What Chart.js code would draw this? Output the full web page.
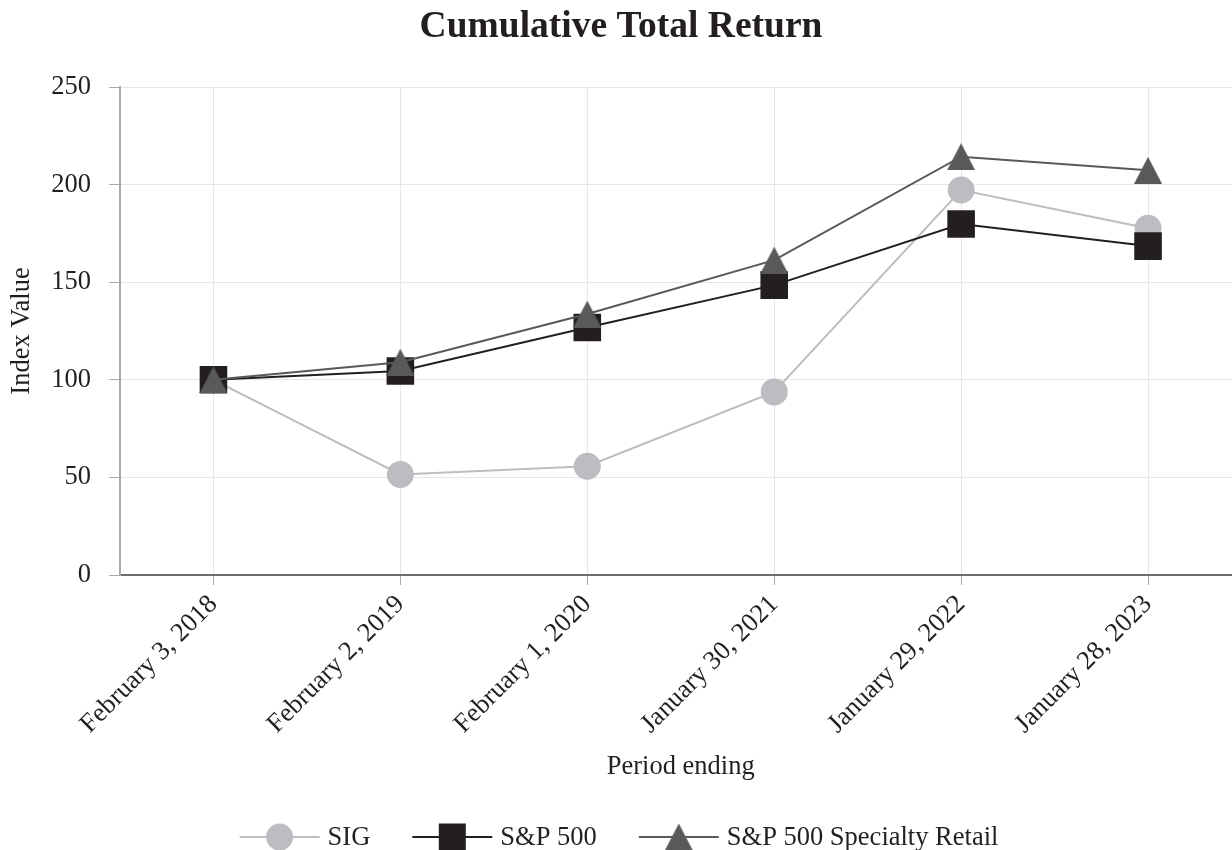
<!DOCTYPE html>
<html><head><meta charset="utf-8">
<script src="https://cdn.jsdelivr.net/npm/chart.js@4"></script>
<style>html,body{margin:0;padding:0;background:#fff;overflow:hidden}#wrap{width:1261px;height:850px;position:relative}</style>
</head><body><div id="wrap"><canvas id="c"></canvas></div>
<script>
const categories = ["February 3, 2018","February 2, 2019","February 1, 2020","January 30, 2021","January 29, 2022","January 28, 2023"];
const sigValues = [100, 51.5, 55.7, 93.8, 197.2, 177.6];
const sp500Values = [100, 104.5, 126.8, 148.5, 179.8, 168.5];
const specialtyValues = [100, 109.0, 133.7, 161.3, 214.3, 207.3];
const yTicks = [0, 50, 100, 150, 200, 250];
const seriesNames = ["SIG", "S&P 500", "S&P 500 Specialty Retail"];
const chartTitle = "Cumulative Total Return";

const FONT = "'Liberation Serif','Times New Roman',serif";
const FS = 26.5;
const C_SIG = '#bcbdc0', C_SP = '#231f20', C_SPEC = '#58595b';

function makeTriangle(w, h, color) {
  const cv = document.createElement('canvas');
  cv.width = w; cv.height = h;
  const x = cv.getContext('2d');
  x.fillStyle = color;
  x.beginPath(); x.moveTo(w/2, 0); x.lineTo(w, h); x.lineTo(0, h); x.closePath(); x.fill();
  return cv;
}
const tri = makeTriangle(28, 27, C_SPEC);

const titleLegendPlugin = {
  id: 'titleLegend',
  afterDraw(chart) {
    const ctx = chart.ctx;
    ctx.save();
    // title
    ctx.font = "bold 37.5px " + FONT;
    ctx.fillStyle = '#231f20';
    ctx.textAlign = 'center';
    ctx.textBaseline = 'middle';
    ctx.fillText(chartTitle, 621, 27);
    // legend
    const y = 837;
    const items = [
      {name: seriesNames[0], color: C_SIG, shape: 'circle'},
      {name: seriesNames[1], color: C_SP, shape: 'rect'},
      {name: seriesNames[2], color: C_SPEC, shape: 'tri'}
    ];
    const LINE = 80, GAP = 8, SEP = 42;
    ctx.font = FS + "px " + FONT;
    ctx.textAlign = 'left';
    let total = 0;
    items.forEach((it, i) => { total += LINE + GAP + ctx.measureText(it.name).width + (i < items.length - 1 ? SEP : 0); });
    let x = (1232 - total) / 2 + 3;
    items.forEach(it => {
      ctx.strokeStyle = it.color; ctx.lineWidth = 2;
      ctx.beginPath(); ctx.moveTo(x, y); ctx.lineTo(x + LINE, y); ctx.stroke();
      const cx = x + LINE / 2;
      ctx.fillStyle = it.color;
      if (it.shape === 'circle') { ctx.beginPath(); ctx.arc(cx, y, 13.5, 0, Math.PI*2); ctx.fill(); }
      else if (it.shape === 'rect') { ctx.fillRect(cx - 13.5, y - 13.5, 27, 27); }
      else { ctx.drawImage(tri, cx - 14, y - 13.5); }
      ctx.fillStyle = '#231f20';
      ctx.fillText(it.name, x + LINE + GAP, y + 1);
      x += LINE + GAP + ctx.measureText(it.name).width + SEP;
    });
    ctx.restore();
  }
};

Chart.defaults.font.family = FONT;
Chart.defaults.color = '#231f20';

new Chart(document.getElementById('c'), {
  type: 'line',
  data: {
    labels: categories,
    datasets: [
      {label: seriesNames[0], data: sigValues, borderColor: C_SIG, backgroundColor: C_SIG, borderWidth: 2,
       pointStyle: 'circle', pointRadius: 13.5, pointBorderWidth: 0, order: 2},
      {label: seriesNames[1], data: sp500Values, borderColor: C_SP, backgroundColor: C_SP, borderWidth: 2,
       pointStyle: 'rect', pointRadius: 19.5, pointBorderWidth: 0, order: 1},
      {label: seriesNames[2], data: specialtyValues, borderColor: C_SPEC, backgroundColor: C_SPEC, borderWidth: 2,
       pointStyle: tri, pointRadius: 14, pointBorderWidth: 0, order: 0}
    ]
  },
  options: {
    responsive: true, maintainAspectRatio: false, animation: false,
    layout: {padding: {top: 87, left: 0, right: 1, bottom: 67}},
    plugins: {
      legend: {display: false},
      tooltip: {enabled: false},
      title: {display: false}
    },
    scales: {
      x: {
        offset: true,
        grid: {color: '#e6e6e6', lineWidth: 1, tickColor: '#a7a9ac', tickLength: 10, offset: false},
        border: {color: '#6d6e71', width: 2},
        ticks: {minRotation: 45, maxRotation: 45, font: {size: FS}, padding: 4, color: '#231f20'},
        title: {display: true, text: 'Period ending', font: {size: FS}, padding: {top: 0, bottom: 0}, color: '#231f20'},
        afterFit(s) { s.height = 208; s.paddingLeft = 0; s.paddingRight = 0; }
      },
      y: {
        min: 0, max: 250,
        afterBuildTicks(s) { s.ticks = yTicks.map(v => ({value: v})); },
        grid: {color: '#e6e6e6', lineWidth: 1, tickColor: '#a7a9ac', tickLength: 11},
        border: {color: '#a7a9ac', width: 2},
        ticks: {font: {size: FS}, padding: 18, color: '#231f20'},
        title: {display: true, text: 'Index Value', font: {size: FS}, padding: {top: 6.4, bottom: 0}, color: '#231f20'},
        afterFit(s) { s.width = 120; s.paddingTop = 0; s.paddingBottom = 0; }
      }
    }
  },
  plugins: [titleLegendPlugin]
});
</script>
</body></html>
